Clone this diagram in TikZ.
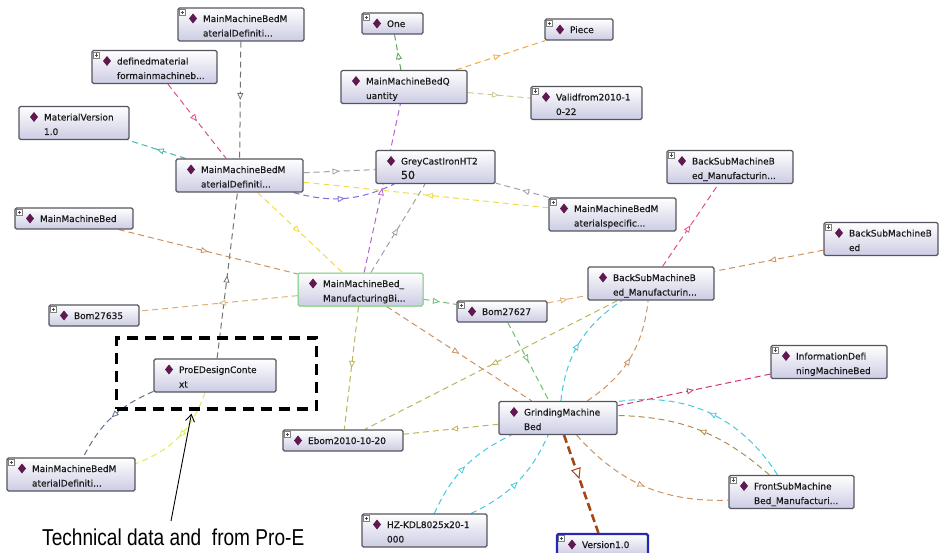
\documentclass[tikz,border=0pt]{standalone}
\usepackage{fontspec}
\setmainfont{Liberation Sans}
\newfontfamily\entfont[FakeBold=0.4]{DejaVu Sans}
\usetikzlibrary{arrows.meta, decorations.markings}
\pgfdeclarelayer{edges}
\pgfsetlayers{edges,main}

\definecolor{entborder}{RGB}{85,85,95}
\definecolor{entfill}{RGB}{204,204,228}
\definecolor{entdia}{RGB}{95,25,80}
\definecolor{cboxgreen}{RGB}{110,200,110}
\definecolor{cboxblue}{RGB}{40,40,170}
\definecolor{cgray}{RGB}{115,115,115}
\definecolor{cgraylt}{RGB}{160,160,170}
\definecolor{cpink}{RGB}{225,80,140}
\definecolor{cmag}{RGB}{210,50,120}
\definecolor{cteal}{RGB}{70,180,170}
\definecolor{cviolet}{RGB}{120,110,220}
\definecolor{cyellow}{RGB}{240,220,70}
\definecolor{cpurple}{RGB}{180,100,210}
\definecolor{cgreen}{RGB}{90,165,90}
\definecolor{cgreenlt}{RGB}{110,190,110}
\definecolor{corange}{RGB}{240,170,60}
\definecolor{ckhaki}{RGB}{210,200,150}
\definecolor{cbrown}{RGB}{205,145,95}
\definecolor{ctan}{RGB}{220,175,120}
\definecolor{colive}{RGB}{190,180,90}
\definecolor{ccyan}{RGB}{70,200,225}
\definecolor{cbrowndk}{RGB}{180,140,80}
\definecolor{crust}{RGB}{165,70,20}
\definecolor{cslate}{RGB}{90,110,140}
\definecolor{clime}{RGB}{215,240,90}

% diamond and expand icon of an entity box
\newcommand\entdia{\fill[entdia, sharp corners] ([xshift=15pt,yshift=-5.5pt]path picture bounding box.north west)
  -- ++(4pt,-5pt) -- ++(-4pt,-5pt) -- ++(-4pt,5pt) -- cycle;}
\newcommand\entplus{%
  \draw[fill=white, draw=gray, line width=0.5pt, sharp corners]
    ([shift={(1.5pt,-1.5pt)}]path picture bounding box.north west) rectangle ++(6pt,-6pt);
  \draw[black!70, line width=0.6pt]
    ([shift={(2.7pt,-4.5pt)}]path picture bounding box.north west) -- ++(3.6pt,0pt)
    ([shift={(4.5pt,-2.7pt)}]path picture bounding box.north west) -- ++(0pt,-3.6pt);}
% no line break at the hyphens of a name
\newcommand\entnobreak{\exhyphenpenalty=10000\relax\hyphenpenalty=10000\relax}

\begin{document}
\begin{tikzpicture}[x=1pt, y=-1pt,
    ent/.style      = {rectangle, draw=entborder, line width=1.2pt, rounded corners=1.5pt,
                       top color=white, bottom color=entfill, text=black!90,
                       font=\entfont\fontsize{9}{14.5}\selectfont, execute at begin node=\entnobreak,
                       align=left, inner xsep=25pt, inner ysep=2pt, minimum height=33pt,
                       text height=7pt, text depth=12pt, path picture={\entdia}},
    plus/.style     = {path picture={\entdia\entplus}},
    oneline/.style  = {minimum height=21pt, text depth=0pt},
    bw/.code        = {\pgfmathsetlengthmacro\entt{max(#1-50,1)}%
                       \tikzset{minimum width=#1pt, text width=\entt}},
    rel/.style      = {line width=1pt, dash pattern=on 6pt off 4pt,
                       postaction={decorate, decoration={markings,
                       mark=at position 0.5 with {\arrow{Triangle[length=7pt, width=6pt, fill=white, line width=0.8pt]}}}}},
    relthick/.style = {crust, line width=2.6pt, dash pattern=on 8pt off 4pt,
                       postaction={decorate, decoration={markings,
                       mark=at position 0.45 with {\arrow{Triangle[length=11pt, width=10pt, fill=white, line width=1pt]}}}}},
    hlbox/.style    = {rectangle, draw=black, line width=3.3pt, dash pattern=on 11pt off 7pt},
    captxt/.style   = {font=\fontsize{23}{27}\selectfont, inner sep=0pt},
    capline/.style  = {-{Straight Barb[length=7pt, width=9pt]}, line width=0.9pt}
]
\useasboundingbox (0,0) rectangle (944,553);
\clip (0,0) rectangle (944,553);
% entity boxes
\node[ent, plus, bw=126] (mmbtop)  at (241,24.5)    {MainMachineBedM\\aterialDefiniti...};
\node[ent, plus, bw=125] (defmat)  at (154.5,67)    {definedmaterial\\formainmachineb...};
\node[ent, bw=110]       (matver)  at (74,123)      {MaterialVersion\\1.0};
\node[ent, bw=127]       (mmbmid)  at (239.5,175.5) {MainMachineBedM\\aterialDefiniti...};
\node[ent, plus, oneline, bw=61] (one)   at (392.5,23.5) {One};
\node[ent, plus, oneline, bw=68] (piece) at (579,29.5)   {Piece};
\node[ent, bw=126]       (qty)     at (404,87)      {MainMachineBedQ\\uantity};
\node[ent, plus, bw=111] (valid)   at (586.5,103)   {Validfrom2010-1\\0-22};
\node[ent, bw=119]       (grey)    at (435.5,167)   {GreyCastIronHT2\\{\fontsize{11}{14.5}\selectfont 50}};
\node[ent, plus, bw=126] (backtop) at (730,167)     {BackSubMachineB\\ed\_Manufacturin...};
\node[ent, plus, bw=127] (matspec) at (612.5,214.5) {MainMachineBedM\\aterialspecific...};
\node[ent, plus, bw=114] (backbed) at (881,239)     {BackSubMachineB\\ed};
\node[ent, plus, oneline, bw=118] (mmbed) at (74,218.5)  {MainMachineBed};
\node[ent, plus, oneline, bw=90]  (bom35) at (94,315.5)  {Bom27635};
\node[ent, draw=cboxgreen, line width=1pt, bw=125] (manuf) at (360.5,289.5) {MainMachineBed\_\\ManufacturingBi...};
\node[ent, plus, oneline, bw=90]  (bom27) at (502,311.5) {Bom27627};
\node[ent, bw=126]       (backmid) at (651,283.5)   {BackSubMachineB\\ed\_Manufacturin...};
\node[ent, plus, bw=116] (infodef) at (829,362)     {InformationDefi\\ningMachineBed};
\node[ent, bw=118]       (grind)   at (558,418)     {GrindingMachine\\Bed};
\node[ent, bw=122]       (proe)    at (215,375.5)   {ProEDesignConte\\xt};
\node[ent, plus, oneline, bw=120] (ebom) at (343,440.5)  {Ebom2010-10-20};
\node[ent, plus, bw=125] (front)   at (791.5,492)   {FrontSubMachine\\Bed\_Manufacturi...};
\node[ent, plus, bw=128] (mmbbot)  at (71,474.5)    {MainMachineBedM\\aterialDefiniti...};
\node[ent, plus, bw=125] (hz)      at (424.5,530.5) {HZ-KDL8025x20-1\\000};
\node[ent, plus, oneline, draw=cboxblue, line width=2.2pt, bw=91] (ver) at (602.5,544.5) {Version1.0};
% relations
\begin{pgfonlayer}{edges}
\draw[rel, cgray]    (mmbtop) -- (mmbmid);
\draw[rel, cgray]    (proe) -- (mmbmid);
\draw[rel, cpink]    (defmat) -- (mmbmid);
\draw[rel, cteal]    (mmbmid) -- (matver);
\draw[rel, cgraylt]  (mmbmid) -- (grey);
\draw[rel, cviolet]  (mmbmid) to[bend right=20] (grey);
\draw[rel, cyellow]  (matspec) -- (mmbmid);
\draw[rel, cyellow]  (mmbmid) -- (manuf);
\draw[rel, cgraylt]  (manuf) -- (grey);
\draw[rel, cpurple]  (manuf) -- (qty);
\draw[rel, cgreen]   (qty) -- (one);
\draw[rel, corange]  (qty) -- (piece);
\draw[rel, ckhaki]   (qty) -- (valid);
\draw[rel, cgraylt]  (matspec) -- (grey);
\draw[rel, cbrown]   (mmbed) -- (manuf);
\draw[rel, ctan]     (manuf) -- (bom35);
\draw[rel, cgreenlt] (manuf) -- (bom27);
\draw[rel, colive]   (manuf) -- (ebom);
\draw[rel, cbrown]   (manuf) -- (grind);
\draw[rel, colive]   (backmid) -- (ebom);
\draw[rel, colive]   (grind) -- (ebom);
\draw[rel, cgreenlt] (bom27) -- (grind);
\draw[rel, ctan]     (bom27) -- (backmid);
\draw[rel, cpink]    (backmid) -- (backtop);
\draw[rel, cbrown]   (backbed) -- (backmid);
\draw[rel, ccyan]    (grind) to[bend left=25] (backmid);
\draw[rel, cbrown]   (grind) to[bend right=25] (backmid);
\draw[rel, cmag]     (grind) -- (infodef);
\draw[rel, ccyan]    (front) to[bend right=33] (grind);
\draw[rel, cbrowndk] (front) to[bend right=20] (grind);
\draw[rel, cbrown]   (grind) to[bend right=25] (front);
\draw[relthick]      (grind) -- (ver);
\draw[rel, ccyan]    (hz) to[bend left=20] (grind);
\draw[rel, ccyan]    (hz) to[bend right=20] (grind);
\draw[rel, cslate]   (proe) to[bend right=20] (mmbbot);
\draw[rel, clime]    (proe) to[bend left=25] (mmbbot);
\end{pgfonlayer}
% highlight and caption
\node[hlbox, minimum width=200pt, minimum height=71pt] (hl) at (216.5,373.5) {};
\node[captxt, anchor=base west] (cap) at (42,545) {\scalebox{0.83}[1]{Technical data and\ \ from Pro-E}};
\coordinate (captail) at (171,521);
\coordinate (hltip) at ([xshift=-25pt, yshift=-3pt]hl.south);
\draw[capline] (captail) -- (hltip);
\end{tikzpicture}
\end{document}
